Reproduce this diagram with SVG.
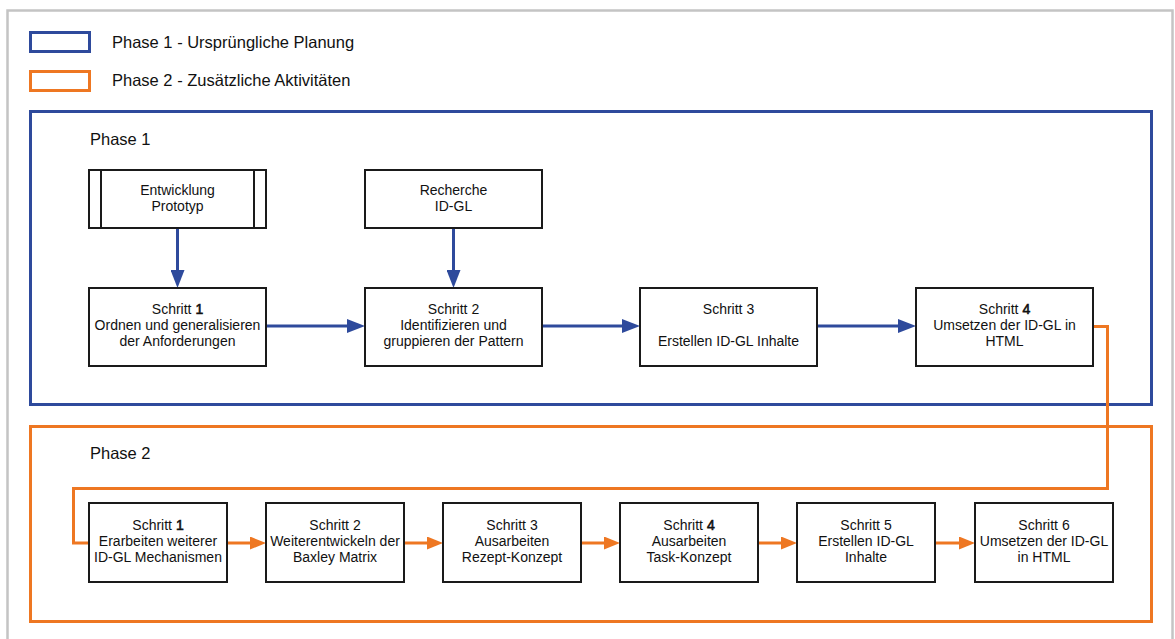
<svg xmlns="http://www.w3.org/2000/svg" width="1175" height="639" viewBox="0 0 1175 639">
  <defs>
    <style>
      text { font-family: "Liberation Sans", Arial, sans-serif; fill: #111; }
      .lbl { font-size: 16.5px; }
      .nt { font-size: 14px; text-anchor: middle; }
      .box { fill: #fff; stroke: #1a1a1a; stroke-width: 2; }
      .blue { fill: none; stroke: #2E4A9C; stroke-width: 3; }
      .orange { fill: none; stroke: #EE7722; stroke-width: 3; }
      .b { stroke: #111; stroke-width: 0.6; }
    </style>
    <marker id="arrBlue" viewBox="0 0 18 14" refX="8" refY="7" markerWidth="18" markerHeight="14" markerUnits="userSpaceOnUse" orient="auto">
      <path d="M0,0 L18,7 L0,14 z" fill="#2E4A9C"/>
    </marker>
    <marker id="arrOrange" viewBox="0 0 16 13" refX="6" refY="6.5" markerWidth="16" markerHeight="13" markerUnits="userSpaceOnUse" orient="auto">
      <path d="M0,0 L16,6.5 L0,13 z" fill="#EE7722"/>
    </marker>
  </defs>

  <rect width="1175" height="639" fill="#fff"/>
  <!-- outer frame -->
  <rect x="7.5" y="10.5" width="1165" height="640" fill="none" stroke="#C4C4C4" stroke-width="2.5"/>

  <!-- legend -->
  <g id="legend">
    <rect x="30.5" y="32.5" width="59" height="19" class="blue"/>
    <text x="112" y="48" class="lbl">Phase 1 - Ursprüngliche Planung</text>
    <rect x="30.5" y="71.5" width="59" height="19" class="orange"/>
    <text x="112" y="86" class="lbl">Phase 2 - Zusätzliche Aktivitäten</text>
  </g>

  <!-- phase containers -->
  <g id="phase1">
    <rect x="30.5" y="111.5" width="1121" height="293" class="blue"/>
    <text x="90" y="145" class="lbl">Phase 1</text>
  </g>
  <g id="phase2">
    <rect x="30.5" y="426.5" width="1121" height="195" class="orange"/>
    <text x="90" y="459" class="lbl">Phase 2</text>
  </g>

  <!-- connectors -->
  <g id="connectors">
    <line x1="177.5" y1="229" x2="177.5" y2="278" class="blue" marker-end="url(#arrBlue)"/>
    <line x1="453.5" y1="229" x2="453.5" y2="278" class="blue" marker-end="url(#arrBlue)"/>
    <line x1="266" y1="326" x2="355" y2="326" class="blue" marker-end="url(#arrBlue)"/>
    <line x1="542" y1="326" x2="630" y2="326" class="blue" marker-end="url(#arrBlue)"/>
    <line x1="817" y1="326" x2="906" y2="326" class="blue" marker-end="url(#arrBlue)"/>
    <path d="M1093,326.5 H1107.5 V488.5 H73.5 V543 H89" class="orange"/>
    <line x1="227" y1="543" x2="256" y2="543" class="orange" marker-end="url(#arrOrange)"/>
    <line x1="404" y1="543" x2="433" y2="543" class="orange" marker-end="url(#arrOrange)"/>
    <line x1="581" y1="543" x2="610" y2="543" class="orange" marker-end="url(#arrOrange)"/>
    <line x1="758" y1="543" x2="787" y2="543" class="orange" marker-end="url(#arrOrange)"/>
    <line x1="935" y1="543" x2="965" y2="543" class="orange" marker-end="url(#arrOrange)"/>
  </g>

  <!-- phase 1 nodes -->
  <g id="prototyp">
    <rect x="89" y="170" width="177" height="58" class="box"/>
    <line x1="101" y1="170" x2="101" y2="228" stroke="#1a1a1a" stroke-width="2"/>
    <line x1="254" y1="170" x2="254" y2="228" stroke="#1a1a1a" stroke-width="2"/>
    <text x="177.5" y="195" class="nt">Entwicklung</text>
    <text x="177.5" y="211" class="nt">Prototyp</text>
  </g>
  <g id="recherche">
    <rect x="365" y="170" width="177" height="58" class="box"/>
    <text x="453.5" y="195" class="nt">Recherche</text>
    <text x="453.5" y="211" class="nt">ID-GL</text>
  </g>
  <g id="p1s1">
    <rect x="89" y="288" width="177" height="78" class="box"/>
    <text x="177.5" y="314" class="nt">Schritt <tspan class="b">1</tspan></text>
    <text x="177.5" y="330" class="nt">Ordnen und generalisieren</text>
    <text x="177.5" y="346" class="nt">der Anforderungen</text>
  </g>
  <g id="p1s2">
    <rect x="365" y="288" width="177" height="78" class="box"/>
    <text x="453.5" y="314" class="nt">Schritt 2</text>
    <text x="453.5" y="330" class="nt">Identifizieren und</text>
    <text x="453.5" y="346" class="nt">gruppieren der Pattern</text>
  </g>
  <g id="p1s3">
    <rect x="640" y="288" width="177" height="78" class="box"/>
    <text x="728.5" y="314" class="nt">Schritt 3</text>
    <text x="728.5" y="346" class="nt">Erstellen ID-GL Inhalte</text>
  </g>
  <g id="p1s4">
    <rect x="916" y="288" width="177" height="78" class="box"/>
    <text x="1004.5" y="314" class="nt">Schritt <tspan class="b">4</tspan></text>
    <text x="1004.5" y="330" class="nt">Umsetzen der ID-GL in</text>
    <text x="1004.5" y="346" class="nt">HTML</text>
  </g>

  <!-- phase 2 nodes -->
  <g id="p2s1">
    <rect x="89" y="503" width="138" height="79" class="box"/>
    <text x="158" y="530" class="nt">Schritt <tspan class="b">1</tspan></text>
    <text x="158" y="546" class="nt">Erarbeiten weiterer</text>
    <text x="158" y="562" class="nt">ID-GL Mechanismen</text>
  </g>
  <g id="p2s2">
    <rect x="266" y="503" width="138" height="79" class="box"/>
    <text x="335" y="530" class="nt">Schritt 2</text>
    <text x="335" y="546" class="nt">Weiterentwickeln der</text>
    <text x="335" y="562" class="nt">Baxley Matrix</text>
  </g>
  <g id="p2s3">
    <rect x="443" y="503" width="138" height="79" class="box"/>
    <text x="512" y="530" class="nt">Schritt 3</text>
    <text x="512" y="546" class="nt">Ausarbeiten</text>
    <text x="512" y="562" class="nt">Rezept-Konzept</text>
  </g>
  <g id="p2s4">
    <rect x="620" y="503" width="138" height="79" class="box"/>
    <text x="689" y="530" class="nt">Schritt <tspan class="b">4</tspan></text>
    <text x="689" y="546" class="nt">Ausarbeiten</text>
    <text x="689" y="562" class="nt">Task-Konzept</text>
  </g>
  <g id="p2s5">
    <rect x="797" y="503" width="138" height="79" class="box"/>
    <text x="866" y="530" class="nt">Schritt 5</text>
    <text x="866" y="546" class="nt">Erstellen ID-GL</text>
    <text x="866" y="562" class="nt">Inhalte</text>
  </g>
  <g id="p2s6">
    <rect x="975" y="503" width="138" height="79" class="box"/>
    <text x="1044" y="530" class="nt">Schritt 6</text>
    <text x="1044" y="546" class="nt">Umsetzen der ID-GL</text>
    <text x="1044" y="562" class="nt">in HTML</text>
  </g>
</svg>
